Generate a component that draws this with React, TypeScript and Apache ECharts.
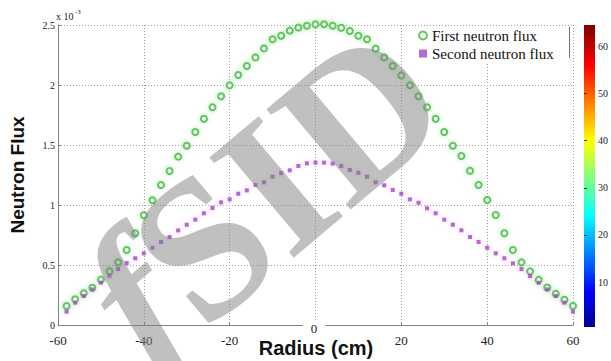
import React, { useEffect, useRef } from "react";
import * as echarts from "echarts";

// Radius positions (cm)
const radiusCm = [
  -58, -56, -54, -52, -50, -48, -46, -44, -42, -40, -38, -36, -34, -32, -30,
  -28, -26, -24, -22, -20, -18, -16, -14, -12, -10, -8, -6, -4, -2, 0, 2, 4, 6,
  8, 10, 12, 14, 16, 18, 20, 22, 24, 26, 28, 30, 32, 34, 36, 38, 40, 42, 44, 46,
  48, 50, 52, 54, 56, 58, 60,
];

// Neutron flux values in units of 1e-3
const firstFlux = [
  0.158, 0.214, 0.264, 0.311, 0.378, 0.447, 0.522, 0.625, 0.764, 0.914,
  1.039, 1.167, 1.283, 1.403, 1.494, 1.608, 1.719, 1.814, 1.906, 1.997,
  2.083, 2.158, 2.23, 2.305, 2.381, 2.41, 2.453, 2.478, 2.494,
  2.506, 2.506, 2.494, 2.477, 2.45, 2.41, 2.381, 2.303, 2.23, 2.158,
  2.08, 1.997, 1.906, 1.814, 1.719, 1.608, 1.494, 1.408, 1.286, 1.167,
  1.042, 0.917, 0.764, 0.625, 0.522, 0.447, 0.376, 0.312, 0.26, 0.21, 0.158,
];

const secondFlux = [
  0.111, 0.186, 0.242, 0.297, 0.353, 0.41, 0.466, 0.516, 0.556, 0.597,
  0.644, 0.692, 0.733, 0.788, 0.835, 0.878, 0.931, 0.975, 1.022, 1.047,
  1.094, 1.122, 1.167, 1.189, 1.236, 1.266, 1.289, 1.325, 1.347,
  1.353, 1.353, 1.345, 1.325, 1.292, 1.269, 1.236, 1.189, 1.164, 1.125,
  1.094, 1.047, 1.019, 0.972, 0.931, 0.878, 0.836, 0.789, 0.733, 0.692,
  0.644, 0.597, 0.556, 0.514, 0.466, 0.408, 0.352, 0.297, 0.242, 0.186, 0.111,
];

const seriesNames = ["First neutron flux", "Second neutron flux"];
const colorbarTicks = [10, 20, 30, 40, 50, 60];
const colorbarRange = [0.5, 64.5];
const jetStops: [number, string][] = [
  [0, "#00008f"],
  [0.117, "#0000ff"],
  [0.367, "#00ffff"],
  [0.617, "#ffff00"],
  [0.867, "#ff0000"],
  [1, "#800000"],
];

const SERIF = "'Liberation Serif', 'DejaVu Serif', serif";
const SANS = "'Liberation Sans', Arial, sans-serif";

export default function App() {
  const ref = useRef<HTMLDivElement>(null);

  useEffect(() => {
    if (!ref.current) return;
    const chart = echarts.init(ref.current, undefined, { renderer: "svg" });

    const firstData = radiusCm.map((r, i) => [r, firstFlux[i]]);
    const secondData = radiusCm.map((r, i) => [r, secondFlux[i]]);

    const gridLine = { show: true, lineStyle: { color: "#a0a0a0", type: [1, 2] as any, width: 1 } };
    const wm = "rgba(130,130,130,0.5)";

    chart.setOption({
      animation: false,
      backgroundColor: "#ffffff",
      textStyle: { fontFamily: SERIF },
      grid: [
        { left: 55, right: 38, top: 25, bottom: 36, show: false },
        {
          left: 584,
          width: 14,
          top: 25,
          height: 302,
          show: true,
          borderWidth: 0,
          backgroundColor: new echarts.graphic.LinearGradient(
            0,
            1,
            0,
            0,
            jetStops.map(([offset, color]) => ({ offset, color }))
          ),
        },
      ],
      xAxis: [
        {
          type: "value",
          gridIndex: 0,
          min: -60,
          max: 60,
          interval: 20,
          axisLine: { show: true, onZero: false, lineStyle: { color: "#808080", width: 1 } },
          axisTick: { show: true, inside: true, length: 3, lineStyle: { color: "#808080" } },
          splitLine: gridLine,
          axisLabel: {
            margin: 9,
            fontSize: 13,
            color: "#222",
            fontFamily: SERIF,
            formatter: (v: number) => (v === 0 ? "" : String(v)),
          },
        },
        {
          type: "value",
          gridIndex: 1,
          min: 0,
          max: 1,
          show: false,
        },
      ],
      yAxis: [
        {
          type: "value",
          gridIndex: 0,
          min: 0,
          max: 2.5,
          interval: 0.5,
          name: "Neutron Flux",
          nameLocation: "middle",
          nameGap: 31,
          nameTextStyle: { fontFamily: SANS, fontWeight: "bold", fontSize: 19, color: "#111" },
          axisLine: { show: true, onZero: false, lineStyle: { color: "#808080", width: 1 } },
          axisTick: { show: true, inside: true, length: 3, lineStyle: { color: "#808080" } },
          splitLine: gridLine,
          axisLabel: { margin: 3, fontSize: 10, color: "#222", fontFamily: SERIF },
        },
        {
          type: "value",
          gridIndex: 1,
          position: "right",
          min: colorbarRange[0],
          max: colorbarRange[1],
          axisLine: { show: false },
          splitLine: { show: false },
          axisTick: {
            show: true,
            length: 3,
            customValues: colorbarTicks,
            lineStyle: { color: "#333" },
          },
          axisLabel: {
            margin: 3,
            fontSize: 10,
            color: "#222",
            fontFamily: SERIF,
            customValues: colorbarTicks,
          },
        },
      ],
      legend: {
        orient: "vertical",
        left: 416,
        top: 27,
        itemGap: 3,
        itemWidth: 8,
        itemHeight: 8,
        padding: [1, 6, 1, 2],
        backgroundColor: "#ffffff",
        textStyle: { fontSize: 15, color: "#111", fontFamily: SERIF },
        data: seriesNames,
      },
      series: [
        {
          name: seriesNames[0],
          type: "scatter",
          xAxisIndex: 0,
          yAxisIndex: 0,
          data: firstData,
          clip: false,
          symbol: "circle",
          symbolSize: 6,
          itemStyle: {
            color: "#ffffff",
            borderColor: "#3cb93c",
            borderWidth: 2,
            shadowBlur: 5,
            shadowColor: "rgba(90,210,90,0.5)",
          },
          z: 3,
        },
        {
          name: seriesNames[1],
          type: "scatter",
          xAxisIndex: 0,
          yAxisIndex: 0,
          data: secondData,
          clip: false,
          symbol: "rect",
          symbolSize: 4,
          itemStyle: {
            color: "#a347c4",
            shadowBlur: 5,
            shadowColor: "rgba(220,120,220,0.55)",
          },
          z: 4,
        },
      ],
      graphic: [
        {
          type: "text",
          left: 56,
          top: 11,
          style: { text: "x 10", fontSize: 10, fontFamily: SERIF, fill: "#222" },
        },
        {
          type: "text",
          left: 75,
          top: 8,
          style: { text: "-3", fontSize: 7, fontFamily: SERIF, fill: "#222" },
        },
        {
          type: "text",
          x: 314,
          y: 328,
          z: 50,
          style: {
            text: "0",
            fontSize: 13,
            fontFamily: SERIF,
            fill: "#222",
            align: "center",
            verticalAlign: "middle",
            backgroundColor: "#ffffff",
            padding: [1, 8, 1, 8],
          },
        },
        {
          type: "text",
          x: 316,
          y: 348,
          z: 50,
          style: {
            text: "Radius (cm)",
            fontSize: 20,
            fontWeight: "bold",
            fontFamily: SANS,
            fill: "#111",
            align: "center",
            verticalAlign: "middle",
          },
        },
        {
          type: "line",
          z: 50,
          shape: { x1: 569.5, y1: 27, x2: 569.5, y2: 58 },
          style: { stroke: "#777", lineWidth: 1 },
        },
        {
          type: "text",
          x: 262,
          y: 196,
          rotation: 0.7,
          z: 100,
          silent: true,
          style: {
            text: "{f|f}{r|SID}",
            fill: wm,
            align: "center",
            verticalAlign: "middle",
            rich: {
              f: {
                fontSize: 200,
                fontStyle: "italic",
                fontWeight: "bold",
                fontFamily: SERIF,
                fill: wm,
              },
              r: {
                fontSize: 200,
                fontWeight: "bold",
                fontFamily: SERIF,
                fill: wm,
              },
            },
          },
        },
      ],
    });

    return () => chart.dispose();
  }, []);

  return (
    <div
      ref={ref}
      style={{ position: "absolute", left: 0, top: 0, width: 611, height: 361, background: "#fff" }}
    />
  );
}
